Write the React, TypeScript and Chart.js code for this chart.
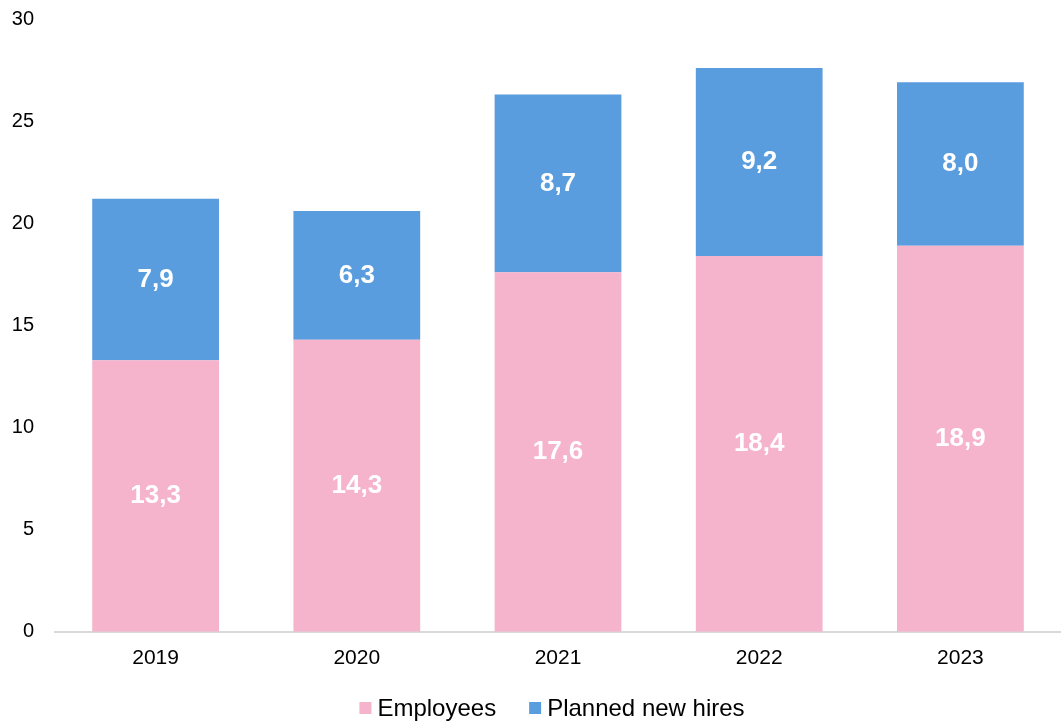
import React, { useEffect, useRef } from "react";
import { Chart, registerables } from "chart.js";

Chart.register(...registerables);

const years = ["2019", "2020", "2021", "2022", "2023"];
const employees = [13.3, 14.3, 17.6, 18.4, 18.9];
const plannedHires = [7.9, 6.3, 8.7, 9.2, 8.0];
const yTicks = [0, 5, 10, 15, 20, 25, 30];

const FONT = "'Liberation Sans', Arial, sans-serif";

const valueLabels = {
  id: "valueLabels",
  afterDatasetsDraw(chart: any) {
    const ctx = chart.ctx;
    ctx.save();
    ctx.fillStyle = "#ffffff";
    ctx.font = `bold 26px ${FONT}`;
    ctx.textAlign = "center";
    ctx.textBaseline = "middle";
    chart.data.datasets.forEach((ds: any, di: number) => {
      const meta = chart.getDatasetMeta(di);
      meta.data.forEach((el: any, i: number) => {
        const v = ds.data[i];
        const y = (el.y + el.base) / 2;
        ctx.fillText(v.toFixed(1).replace(".", ","), el.x, y);
      });
    });
    ctx.restore();
  },
};

const bottomLegend = {
  id: "bottomLegend",
  afterDraw(chart: any) {
    const ctx = chart.ctx;
    const box = 12;
    const gapText = 6;
    const gapItem = 33;
    ctx.save();
    ctx.font = `24px ${FONT}`;
    ctx.textBaseline = "middle";
    ctx.textAlign = "left";
    const items = chart.data.datasets.map((ds: any) => ({
      text: ds.label,
      color: ds.backgroundColor,
      w: ctx.measureText(ds.label).width,
    }));
    const total = items.reduce((s: number, it: any) => s + box + gapText + it.w, 0) + gapItem * (items.length - 1);
    const area = chart.chartArea;
    let x = (area.left + area.right) / 2 - 6 - total / 2;
    const y = chart.height - 13;
    items.forEach((it: any) => {
      ctx.fillStyle = it.color;
      ctx.fillRect(x, y - box / 2, box, box);
      x += box + gapText;
      ctx.fillStyle = "#000";
      ctx.fillText(it.text, x, y + 1);
      x += it.w + gapItem;
    });
    ctx.restore();
  },
};

export default function App() {
  const ref = useRef<HTMLCanvasElement>(null);
  useEffect(() => {
    const chart = new Chart(ref.current!, {
      type: "bar",
      data: {
        labels: years,
        datasets: [
          {
            label: "Employees",
            data: employees,
            backgroundColor: "#F5B3CC",
            barPercentage: 0.63,
            categoryPercentage: 1,
          },
          {
            label: "Planned new hires",
            data: plannedHires,
            backgroundColor: "#599DDE",
            barPercentage: 0.63,
            categoryPercentage: 1,
          },
        ],
      },
      options: {
        animation: false,
        responsive: false,
        maintainAspectRatio: false,
        layout: { padding: { top: 0, right: 0, left: 0, bottom: 36 } },
        scales: {
          x: {
            stacked: true,
            grid: { display: false, drawTicks: false },
            border: { display: true, color: "#d9d9d9", width: 2 },
            ticks: { color: "#000", font: { family: FONT, size: 21 }, padding: 14 },
          },
          y: {
            stacked: true,
            min: 0,
            max: 30,
            afterBuildTicks: (axis: any) => {
              axis.ticks = yTicks.map((v) => ({ value: v }));
            },
            afterFit: (axis: any) => {
              axis.width = 55;
              axis.paddingTop = 19;
            },
            grid: { display: false, drawTicks: false },
            border: { display: false },
            ticks: { color: "#000", font: { family: FONT, size: 20 }, padding: 21 },
          },
        },
        plugins: {
          legend: { display: false },
          tooltip: { enabled: false },
        },
      },
      plugins: [valueLabels, bottomLegend],
    });
    return () => chart.destroy();
  }, []);
  return (
    <div style={{ position: "fixed", left: 0, top: 0, width: 1061, height: 721, background: "#fff", overflow: "hidden" }}>
      <canvas ref={ref} width={1061} height={721} />
    </div>
  );
}
